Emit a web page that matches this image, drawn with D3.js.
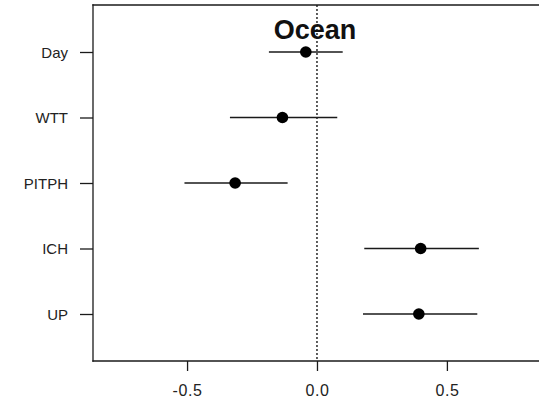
<!DOCTYPE html>
<html>
<head>
<meta charset="utf-8">
<script src="https://cdn.jsdelivr.net/npm/d3@7"></script>
<style>
  html, body { margin: 0; padding: 0; background: #fff; overflow: hidden; }
  svg { display: block; }
</style>
</head>
<body>
<script>
// Coefficient estimates with confidence intervals
const predictors = ["Day", "WTT", "PITPH", "ICH", "UP"];
const estimates  = [-0.043, -0.133, -0.315, 0.399, 0.392];
const lowerCI    = [-0.185, -0.335, -0.510, 0.182, 0.177];
const upperCI    = [0.099, 0.078, -0.113, 0.623, 0.617];
const xTicks     = [-0.5, 0.0, 0.5];
const title      = "Ocean";

const W = 539, H = 405;
const margin = { left: 93, top: 5, right: -3, bottom: 44 };
const font = "Liberation Sans, Arial, sans-serif";

const svg = d3.select("body").append("svg")
  .attr("width", W).attr("height", H);

const x = d3.scaleLinear()
  .domain([-0.862, 0.866])
  .range([margin.left, W - margin.right]);

const y = d3.scalePoint()
  .domain(predictors)
  .range([52, 314]);

const bottom = H - margin.bottom;
const ink = "#1a1a1a";

// Plot frame: left, top and bottom edges (the right edge lies past the page)
const xr = x.range();
const frame = [
  [xr[0], margin.top, xr[1], margin.top],
  [xr[0], bottom, xr[1], bottom],
  [xr[0], margin.top, xr[0], bottom]
];
svg.selectAll("line.frame").data(frame).enter().append("line")
  .attr("class", "frame")
  .attr("x1", d => d[0]).attr("y1", d => d[1])
  .attr("x2", d => d[2]).attr("y2", d => d[3])
  .attr("stroke", ink).attr("stroke-width", 1.3)
  .attr("stroke-linecap", "square");

// X axis
const xAxis = svg.append("g")
  .attr("transform", `translate(0,${bottom})`)
  .call(d3.axisBottom(x).tickValues(xTicks)
    .tickFormat(d => d.toFixed(1))
    .tickSize(10).tickSizeOuter(0));
xAxis.select(".domain").remove();
xAxis.selectAll(".tick line").attr("stroke", ink).attr("stroke-width", 1.3);
xAxis.selectAll(".tick text")
  .attr("y", 24)
  .attr("font-family", font)
  .attr("font-size", 16).attr("letter-spacing", 0.6).attr("fill", "#222");

// Y axis
const yAxis = svg.append("g")
  .attr("transform", `translate(${margin.left},0)`)
  .call(d3.axisLeft(y).tickSize(13).tickPadding(12));
yAxis.select(".domain").remove();
yAxis.selectAll(".tick line").attr("stroke", ink).attr("stroke-width", 1.3);
yAxis.selectAll(".tick text")
  .attr("dy", "0.36em")
  .attr("font-family", font)
  .attr("font-size", 15).attr("fill", "#222");

// Zero reference line
svg.append("line")
  .attr("x1", x(0)).attr("x2", x(0))
  .attr("y1", margin.top).attr("y2", bottom)
  .attr("stroke", ink).attr("stroke-width", 1.4)
  .attr("stroke-dasharray", "2,2");

// Title
svg.append("text")
  .attr("x", x(0) - 2).attr("y", 39)
  .attr("text-anchor", "middle")
  .attr("font-family", font)
  .attr("font-weight", "bold").attr("font-size", 27)
  .attr("fill", "#111")
  .text(title);

// Intervals and point estimates
const rows = predictors.map((p, i) => ({ p, est: estimates[i], lo: lowerCI[i], hi: upperCI[i] }));

svg.selectAll("line.ci").data(rows).enter().append("line")
  .attr("class", "ci")
  .attr("x1", d => x(d.lo)).attr("x2", d => x(d.hi))
  .attr("y1", d => y(d.p)).attr("y2", d => y(d.p))
  .attr("stroke", ink).attr("stroke-width", 1.3);

svg.selectAll("circle.est").data(rows).enter().append("circle")
  .attr("class", "est")
  .attr("cx", d => x(d.est)).attr("cy", d => y(d.p))
  .attr("r", 5.8).attr("fill", "#000");
</script>
</body>
</html>
